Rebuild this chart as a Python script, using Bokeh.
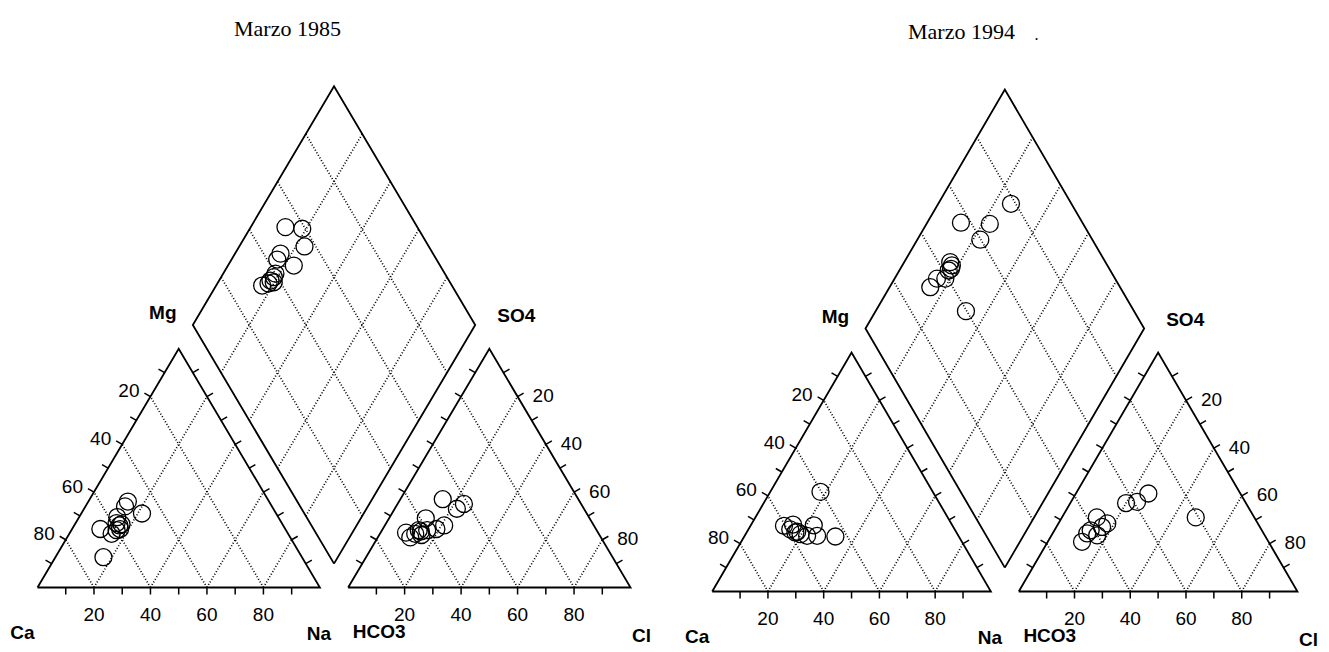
import numpy as np
from bokeh.plotting import figure
from bokeh.layouts import row
from bokeh.models import ColumnDataSource, Range1d
from bokeh.core.properties import value
from bokeh.embed import file_html
from bokeh.resources import INLINE

H = np.sqrt(3) / 2
GAP = 0.1

# ---------------- data (meq %) ----------------
titles = ["Marzo 1985", "Marzo 1994"]
tick_values = [20, 40, 60, 80]
tick_labels = ["20", "40", "60", "80"]

# Marzo 1985
cat85_na = [14, 14, 21.5, 13.5, 10, 16, 17, 15, 17, 14.5, 16.5, 16]
cat85_mg = [36, 34, 31, 29.5, 24.5, 26, 24.5, 22.5, 12.7, 27, 26.5, 24]
an85_cl = [15, 23.5, 22, 13, 21, 19, 13, 9, 11.5, 15, 16, 12.5, 14]
an85_so4 = [37, 35, 33, 29, 26, 24.5, 24, 23, 21, 22, 24, 22.5, 23.5]
dia85_na = [12.3, 18.6, 23.1, 16.1, 16.2, 23.3, 18.7, 18.2, 16.3, 19.7, 18.5, 18.1]
dia85_clso4 = [53.3, 58.9, 56.0, 46.0, 43.6, 48.2, 38.7, 36.8, 32.8, 37.6, 40.0, 35.5]

# Marzo 1994
cat94_na = [18, 12, 15, 18, 17.5, 22.4, 22.6, 26, 32.7, 19.7, 15]
cat94_mg = [41.7, 27.5, 28, 25, 24.7, 23.3, 27.7, 23.3, 23, 24, 26]
an94_cl = [26, 23.7, 20, 48, 12.5, 17.5, 16.4, 13, 16.4, 12.3, 12.4]
an94_so4 = [41, 37.5, 37, 31, 31, 28.5, 27, 25.6, 23.5, 20.8, 24.3]
dia94_na = [12.1, 22.7, 26.1, 22.6, 16.5, 18.2, 18.2, 15.2, 14.6, 32.4, 17.7, 17.8]
dia94_clso4 = [56.4, 66.5, 78.3, 59.8, 44.3, 43.2, 39.1, 36.1, 31.9, 39.7, 42.0, 44.2]

FIG_H = 652
SANS = value("Liberation Sans")
SERIF = value("Liberation Serif")


def make_panel(title, title_px, fig_w, ox, base, uh, uv, cat_na, cat_mg, an_cl, an_so4,
               dia_na, dia_clso4, extra_dot=None):
    x0 = -ox / uh
    x1 = x0 + fig_w / uh
    y0 = -(FIG_H - base) / uv
    y1 = base / uv
    p = figure(width=fig_w, height=FIG_H, output_backend="svg", toolbar_location=None,
               x_range=Range1d(x0, x1), y_range=Range1d(y0, y1),
               x_axis_type=None, y_axis_type=None, min_border=0,
               outline_line_color=None, background_fill_color="white",
               border_fill_color="white")

    def px(dx, dy):
        return dx / uh, dy / uv

    def fig_pt(fx, fy):
        return x0 + fx / uh, y1 - fy / uv

    ax0 = 1 + GAP  # anion triangle left corner
    B = (1 + GAP / 2, GAP * H)
    Lc = (B[0] - 0.5, B[1] + H)
    T = (B[0], B[1] + 2 * H)
    Rc = (B[0] + 0.5, B[1] + H)

    # ---- dotted grids ----
    gx, gy = [], []
    for v in tick_values:
        t = v / 100
        for off in (0, ax0):
            gx.append([off + t, off + (1 + t) / 2]); gy.append([0, (1 - t) * H])
            gx.append([off + t, off + t / 2]); gy.append([0, t * H])
        P = (B[0] + t * (Lc[0] - B[0]), B[1] + t * (Lc[1] - B[1]))
        gx.append([P[0], P[0] + (Rc[0] - B[0])]); gy.append([P[1], P[1] + (Rc[1] - B[1])])
        Q = (B[0] + t * (Rc[0] - B[0]), B[1] + t * (Rc[1] - B[1]))
        gx.append([Q[0], Q[0] + (Lc[0] - B[0])]); gy.append([Q[1], Q[1] + (Lc[1] - B[1])])
    p.multi_line(gx, gy, line_color="black", line_width=1.7, line_dash="1 2")

    # ---- outlines ----
    ox_list = [[0, 1, 0.5, 0], [ax0, ax0 + 1, ax0 + 0.5, ax0],
               [B[0], Lc[0], T[0], Rc[0], B[0]]]
    oy_list = [[0, 0, H, 0], [0, 0, H, 0], [B[1], Lc[1], T[1], Rc[1], B[1]]]
    p.multi_line(ox_list, oy_list, line_color="black", line_width=1.8,
                 line_join="miter")

    # ---- ticks ----
    L = 7
    tx, ty = [], []
    for k in range(1, 10):
        t = k / 10
        for off in (0, ax0):
            dxb, dyb = px(0, -L)
            tx.append([off + t, off + t + dxb]); ty.append([0, dyb])
            dxl, dyl = px(-H * L, 0.5 * L)
            tx.append([off + t / 2, off + t / 2 + dxl]); ty.append([t * H, t * H + dyl])
            dxr, dyr = px(H * L, 0.5 * L)
            tx.append([off + 1 - t / 2, off + 1 - t / 2 + dxr]); ty.append([t * H, t * H + dyr])
    p.multi_line(tx, ty, line_color="black", line_width=1.5)

    # ---- tick labels ----
    bx, by, bt = [], [], []
    for v, lab in zip(tick_values, tick_labels):
        for off in (0, ax0):
            bx.append(off + v / 100); by.append(px(0, -27)[1]); bt.append(lab)
    p.text(bx, by, text=bt, text_font=SANS, text_font_size="19px",
           text_align="center", text_baseline="middle", text_color="black")

    lx, ly, lt = [], [], []
    for v, lab in zip(tick_values, tick_labels):
        f = 1 - v / 100
        dx, dy = px(-11, 6)
        lx.append(f / 2 + dx); ly.append(f * H + dy); lt.append(lab)
    p.text(lx, ly, text=lt, text_font=SANS, text_font_size="19px",
           text_align="right", text_baseline="middle", text_color="black")

    rx, ry, rt = [], [], []
    for v, lab in zip(tick_values, tick_labels):
        dx, dy = px(15, 1)
        rx.append(ax0 + 0.5 + 0.5 * v / 100 + dx); ry.append(H * (1 - v / 100) + dy)
        rt.append(lab)
    p.text(rx, ry, text=rt, text_font=SANS, text_font_size="19px",
           text_align="left", text_baseline="middle", text_color="black")

    # ---- corner labels ----
    corners = [("Ca", (0, 0), (-15, -45)), ("Na", (1, 0), (-1, -46)),
               ("HCO3", (ax0, 0), (31, -44)), ("Cl", (ax0 + 1, 0), (11, -48)),
               ("Mg", Lc, (-30, 12)), ("SO4", Rc, (41, 9))]
    cx, cy, ct = [], [], []
    for name, (bx0, by0), (dxp, dyp) in corners:
        dx, dy = px(dxp, dyp)
        cx.append(bx0 + dx); cy.append(by0 + dy); ct.append(name)
    p.text(cx, cy, text=ct, text_font=SANS, text_font_size="19px",
           text_font_style="bold", text_align="center", text_baseline="middle",
           text_color="black")

    # ---- title ----
    tx0, ty0 = fig_pt(*title_px)
    p.text([tx0], [ty0], text=[title], text_font=SERIF, text_font_size="22px",
           text_align="center", text_baseline="middle", text_color="black")
    if extra_dot is not None:
        dx0, dy0 = fig_pt(*extra_dot)
        p.text([dx0], [dy0], text=["."], text_font=SERIF, text_font_size="16px",
               text_align="center", text_baseline="middle", text_color="black")

    # ---- data points ----
    cna = np.array(cat_na) / 100
    cmg = np.array(cat_mg) / 100
    src_c = ColumnDataSource(dict(x=cna + cmg / 2, y=cmg * H))
    acl = np.array(an_cl) / 100
    aso = np.array(an_so4) / 100
    src_a = ColumnDataSource(dict(x=ax0 + acl + aso / 2, y=aso * H))
    pp = 1 - np.array(dia_na) / 100
    qq = np.array(dia_clso4) / 100
    src_d = ColumnDataSource(dict(x=B[0] - 0.5 * pp + 0.5 * qq, y=B[1] + H * (pp + qq)))
    for s in (src_c, src_a, src_d):
        p.scatter("x", "y", source=s, marker="circle", size=17, fill_color=None,
                  line_color="black", line_width=1.3)
    return p


p1 = make_panel(titles[0], (287, 28), 664, 37, 587, 282.4, 275.6,
                cat85_na, cat85_mg, an85_cl, an85_so4, dia85_na, dia85_clso4)
p2 = make_panel(titles[1], (297, 31), 665, 47.7, 591, 278.7, 276.0,
                cat94_na, cat94_mg, an94_cl, an94_so4, dia94_na, dia94_clso4,
                extra_dot=(372, 34))

layout = row(p1, p2)
open("out.html", "w").write(file_html(layout, INLINE))
